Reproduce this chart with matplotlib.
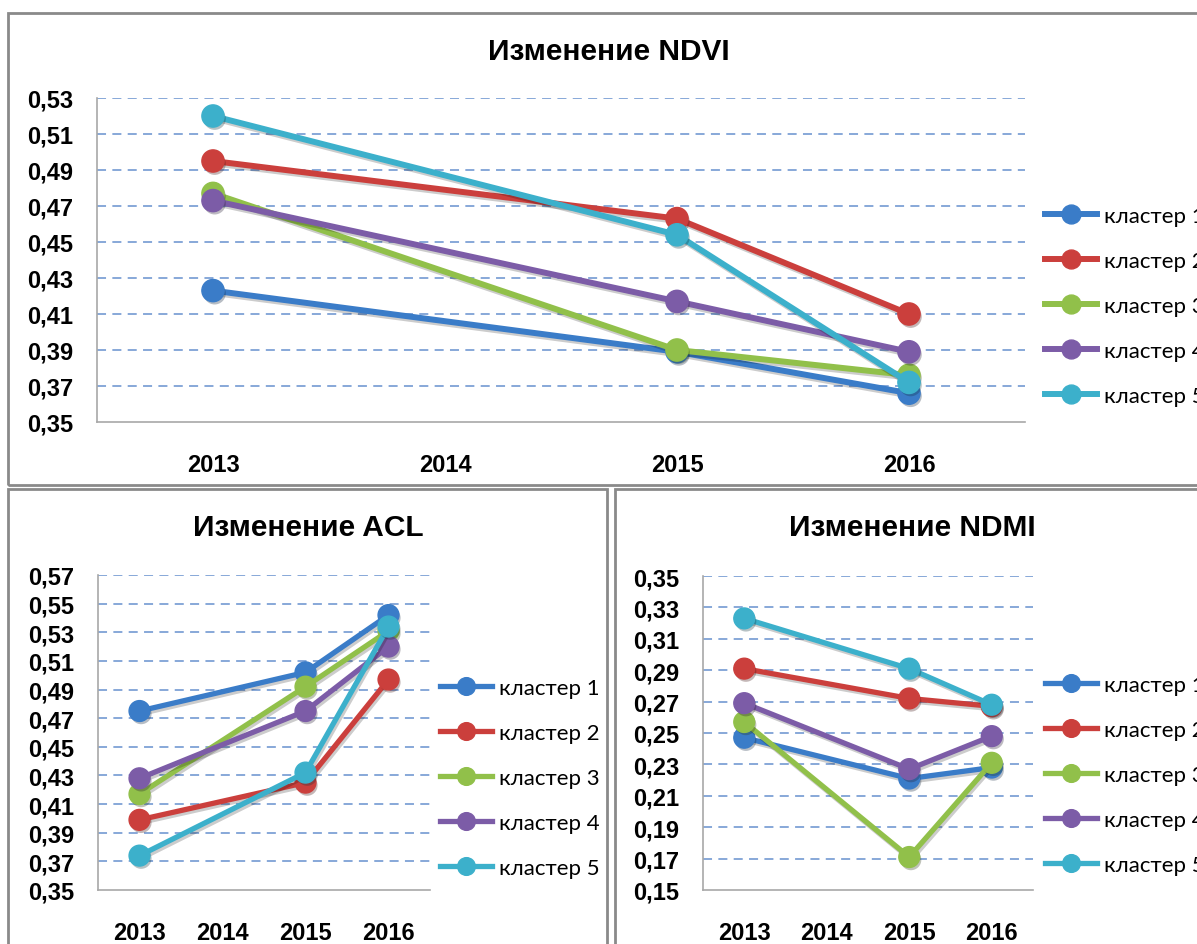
import matplotlib
matplotlib.use('Agg')
from matplotlib import pyplot as plt
from matplotlib import patheffects
from matplotlib.patches import Rectangle
from matplotlib.lines import Line2D
import numpy as np

years = ['2013', '2014', '2015', '2016']
clusters = ['кластер 1', 'кластер 2', 'кластер 3', 'кластер 4', 'кластер 5']
colors = ['#3A7CC8', '#CB3F3C', '#91C04A', '#7C5CA7', '#3CB0CB']

# no survey in 2014 -> None, lines jump straight from 2013 to 2015
ndvi = [
	[0.423, None, 0.389, 0.366],
	[0.495, None, 0.463, 0.410],
	[0.477, None, 0.390, 0.376],
	[0.473, None, 0.417, 0.389],
	[0.520, None, 0.454, 0.372],
]
acl = [
	[0.475, None, 0.502, 0.542],
	[0.399, None, 0.425, 0.497],
	[0.417, None, 0.492, 0.531],
	[0.428, None, 0.475, 0.520],
	[0.374, None, 0.432, 0.534],
]
ndmi = [
	[0.247, None, 0.221, 0.228],
	[0.291, None, 0.272, 0.267],
	[0.257, None, 0.171, 0.231],
	[0.269, None, 0.227, 0.248],
	[0.323, None, 0.291, 0.268],
]

W, H = 1197, 945
plt.rcParams['font.family'] = ['Liberation Sans', 'DejaVu Sans']


def px_box(x0, y0, x1, y1):
	# pixel box (top-left origin) -> figure fraction [left, bottom, width, height]
	return [x0 / W, 1 - y1 / H, (x1 - x0) / W, (y1 - y0) / H]


def draw_panel(fig, box, values, ymin, ymax, title, title_xy, leg_xy, ms, lw):
	ax = fig.add_axes(px_box(*box))
	x = np.arange(len(years))
	for i, vals in enumerate(values):
		v = np.array([np.nan if a is None else a for a in vals])
		ok = ~np.isnan(v)
		ax.plot(x[ok], v[ok], color=colors[i], lw=lw, solid_capstyle='round', zorder=3 + i,
			path_effects=[patheffects.SimpleLineShadow(offset=(1.2, -1.8), alpha=0.2), patheffects.Normal()])
		ax.plot(x[ok], v[ok], ls='none', marker='o', ms=ms, color=colors[i], mec=colors[i], zorder=3 + i,
			path_effects=[patheffects.SimplePatchShadow(offset=(1.2, -2), alpha=0.3), patheffects.Normal()])
	ax.set_xlim(-0.5, len(years) - 0.5)
	ax.set_ylim(ymin, ymax)
	ticks = np.arange(ymin, ymax + 0.001, 0.02)
	ax.set_yticks(ticks)
	ax.set_yticklabels(['{:.2f}'.format(t).replace('.', ',') for t in ticks], fontsize=17, fontweight='bold')
	ax.set_xticks(x)
	ax.set_xticklabels(years, fontsize=17, fontweight='bold')
	ax.tick_params(axis='both', length=0)
	ax.tick_params(axis='x', pad=22)
	ax.tick_params(axis='y', pad=17)
	for t in ticks[1:]:
		ax.axhline(t, color='#7EA1D6', lw=1.3, ls=(0, (5, 3.5)), zorder=1)
	for s in ['top', 'right']:
		ax.spines[s].set_visible(False)
	for s in ['left', 'bottom']:
		ax.spines[s].set_color('#A8A8A8')
		ax.spines[s].set_linewidth(1.2)
	fig.text(title_xy[0] / W, 1 - title_xy[1] / H, title, ha='center', va='center',
		fontsize=21.5, fontweight='bold')
	handles = [Line2D([], [], color=c, lw=lw, marker='o', ms=ms * 0.85) for c in colors]
	ax.legend(handles, clusters, loc='upper left', bbox_to_anchor=(leg_xy[0] / W, 1 - leg_xy[1] / H),
		bbox_transform=fig.transFigure, frameon=False, borderpad=0, borderaxespad=0,
		handlelength=2.35, handletextpad=0.3, labelspacing=1.12,
		prop={'family': ['Lato', 'DejaVu Sans'], 'size': 16})
	return ax


fig = plt.figure(figsize=(W / 100, H / 100), dpi=100)

# panel frames
for x0, y0, x1, y1 in [(8, 14, 1212, 486), (8, 490, 607, 960), (615, 490, 1212, 960)]:
	fig.patches.append(Rectangle((x0 / W, 1 - y1 / H), (x1 - x0) / W, (y1 - y0) / H,
		transform=fig.transFigure, fill=False, ec='#8A8A8A', lw=2))

draw_panel(fig, (97, 99, 1025, 423), ndvi, 0.35, 0.53, 'Изменение NDVI', (609, 52), (1045, 207), 16, 4.3)
draw_panel(fig, (98, 576, 430, 891), acl, 0.35, 0.57, 'Изменение ACL', (308, 528), (440, 679), 15, 3.8)
draw_panel(fig, (703, 577, 1033, 891), ndmi, 0.15, 0.35, 'Изменение NDMI', (912, 528), (1045, 676), 15, 3.8)

fig.savefig('out.png', dpi=100)
plt.close('all')
